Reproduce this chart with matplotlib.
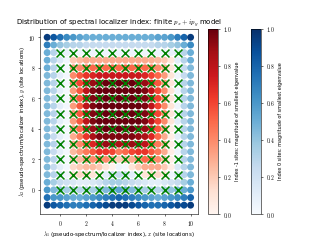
import numpy as np
import matplotlib
matplotlib.use("Agg")
import matplotlib.pyplot as plt
from matplotlib.ticker import FuncFormatter

plt.rcParams['mathtext.fontset'] = 'cm'
plt.rcParams['font.family'] = ['DejaVu Sans']

# grid of probe points (x, y) in steps of 0.5
grid_x = [-1, -0.5, 0, 0.5, 1, 1.5, 2, 2.5, 3, 3.5, 4, 4.5, 5, 5.5, 6, 6.5, 7, 7.5, 8, 8.5, 9, 9.5, 10]
grid_y = [10, 9.5, 9, 8.5, 8, 7.5, 7, 6.5, 6, 5.5, 5, 4.5, 4, 3.5, 3, 2.5, 2, 1.5, 1, 0.5, 0, -0.5, -1]

# local index per probe point: 'B' = index 0, 'R' = index -1 (rows top -> bottom)
index_rows = [
    "BBBBBBBBBBBBBBBBBBBBBBB",
    "BBBBBBBBBBBBBBBBBBBBBBB",
    "BBBBBBBBBBBBBBBBBBBBBBB",
    "BBBBRRRRRRRRRRRRRRRRBBB",
    "BBBBRRRRRRRRRRRRRRRRBBB",
    "BBBBRRRRRRRRRRRRRRRRBBB",
    "BBBBRRRRRRRRRRRRRRRRBBB",
    "BBBBRRRRRRRRRRRRRRRRBBB",
    "BBBBRRRRRRRRRRRRRRRRBBB",
    "BBBBRRRRRRRRRRRRRRRRBBB",
    "BBBBRRRRRRRRRRRRRRRRBBB",
    "BBBBRRRRRRRRRRRRRRRRBBB",
    "BBBBRRRRRRRRRRRRRRRRBBB",
    "BBBBRRRRRRRRRRRRRRRRBBB",
    "BBBBRRRRRRRRRRRRRRRRBBB",
    "BBBBRRRRRRRRRRRRRRRRBBB",
    "BBBBRRRRRRRRRRRRRRRRBBB",
    "BBBBRRRRRRRBBRRRRRRRBBB",
    "BBBBRRRRRBBBBBBRRRRBBBB",
    "BBBBBBBBBBBBBBBBBBBBBBB",
    "BBBBBBBBBBBBBBBBBBBBBBB",
    "BBBBBBBBBBBBBBBBBBBBBBB",
    "BBBBBBBBBBBBBBBBBBBBBBB",
]

# magnitude of smallest eigenvalue per probe point (rows top -> bottom)
magnitude_rows = [
    [0.95, 0.85, 0.75, 0.65, 0.6, 0.55, 0.5, 0.5, 0.5, 0.5, 0.5, 0.5, 0.5, 0.5, 0.5, 0.5, 0.5, 0.55, 0.55, 0.6, 0.7, 0.8, 0.95],
    [0.7, 0.5, 0.4, 0.35, 0.3, 0.3, 0.25, 0.25, 0.25, 0.25, 0.25, 0.25, 0.25, 0.25, 0.25, 0.25, 0.25, 0.3, 0.3, 0.35, 0.4, 0.5, 0.65],
    [0.5, 0.3, 0.12, 0.08, 0.05, 0.05, 0.05, 0.05, 0.05, 0.05, 0.05, 0.05, 0.05, 0.05, 0.05, 0.05, 0.05, 0.05, 0.05, 0.08, 0.12, 0.3, 0.5],
    [0.5, 0.3, 0.15, 0.05, 0.2, 0.25, 0.3, 0.3, 0.3, 0.3, 0.3, 0.3, 0.3, 0.3, 0.3, 0.3, 0.28, 0.25, 0.2, 0.08, 0.1, 0.3, 0.5],
    [0.5, 0.3, 0.1, 0.03, 0.35, 0.4, 0.45, 0.5, 0.5, 0.5, 0.5, 0.5, 0.5, 0.5, 0.5, 0.5, 0.45, 0.4, 0.3, 0.1, 0.05, 0.25, 0.45],
    [0.45, 0.3, 0.1, 0.03, 0.4, 0.55, 0.65, 0.7, 0.75, 0.75, 0.75, 0.75, 0.75, 0.75, 0.75, 0.7, 0.6, 0.5, 0.35, 0.1, 0.05, 0.25, 0.45],
    [0.45, 0.3, 0.1, 0.03, 0.4, 0.6, 0.8, 0.9, 0.95, 1.0, 1.0, 1.0, 1.0, 1.0, 0.95, 0.9, 0.75, 0.55, 0.35, 0.1, 0.05, 0.3, 0.45],
    [0.45, 0.3, 0.1, 0.03, 0.35, 0.55, 0.8, 0.95, 1.0, 1.0, 1.0, 1.0, 1.0, 1.0, 1.0, 0.95, 0.8, 0.6, 0.4, 0.1, 0.05, 0.3, 0.45],
    [0.45, 0.3, 0.1, 0.03, 0.35, 0.55, 0.8, 0.95, 1.0, 1.0, 1.0, 1.0, 1.0, 1.0, 1.0, 0.95, 0.8, 0.6, 0.4, 0.1, 0.05, 0.3, 0.45],
    [0.45, 0.3, 0.1, 0.03, 0.35, 0.55, 0.8, 0.95, 1.0, 1.0, 1.0, 1.0, 1.0, 1.0, 1.0, 0.95, 0.8, 0.6, 0.4, 0.1, 0.05, 0.3, 0.45],
    [0.45, 0.3, 0.1, 0.03, 0.35, 0.55, 0.8, 0.95, 1.0, 1.0, 1.0, 1.0, 1.0, 1.0, 1.0, 0.95, 0.8, 0.6, 0.4, 0.1, 0.05, 0.3, 0.45],
    [0.45, 0.3, 0.1, 0.03, 0.35, 0.55, 0.8, 0.95, 1.0, 1.0, 1.0, 1.0, 1.0, 1.0, 1.0, 0.95, 0.8, 0.6, 0.4, 0.1, 0.1, 0.3, 0.45],
    [0.45, 0.3, 0.1, 0.03, 0.35, 0.5, 0.75, 0.9, 1.0, 1.0, 1.0, 1.0, 1.0, 1.0, 0.95, 0.9, 0.75, 0.55, 0.35, 0.05, 0.05, 0.3, 0.45],
    [0.45, 0.25, 0.1, 0.03, 0.3, 0.45, 0.65, 0.85, 0.95, 0.95, 0.95, 0.95, 0.95, 0.95, 0.9, 0.85, 0.7, 0.5, 0.3, 0.05, 0.1, 0.3, 0.45],
    [0.45, 0.3, 0.1, 0.03, 0.3, 0.4, 0.55, 0.7, 0.85, 0.9, 0.9, 0.85, 0.85, 0.9, 0.9, 0.8, 0.6, 0.45, 0.3, 0.05, 0.05, 0.3, 0.45],
    [0.45, 0.25, 0.1, 0.03, 0.25, 0.35, 0.45, 0.55, 0.65, 0.65, 0.6, 0.45, 0.5, 0.6, 0.65, 0.65, 0.55, 0.45, 0.3, 0.05, 0.05, 0.3, 0.45],
    [0.45, 0.3, 0.1, 0.03, 0.2, 0.25, 0.35, 0.4, 0.45, 0.4, 0.3, 0.2, 0.25, 0.3, 0.4, 0.5, 0.5, 0.4, 0.25, 0.05, 0.05, 0.3, 0.45],
    [0.45, 0.25, 0.1, 0.03, 0.15, 0.2, 0.25, 0.25, 0.2, 0.1, 0.02, 0.05, 0.02, 0.1, 0.2, 0.3, 0.3, 0.3, 0.2, 0.05, 0.15, 0.3, 0.45],
    [0.45, 0.3, 0.15, 0.05, 0.1, 0.15, 0.15, 0.1, 0.02, 0.1, 0.2, 0.25, 0.2, 0.1, 0.02, 0.1, 0.15, 0.15, 0.1, 0.05, 0.15, 0.3, 0.45],
    [0.5, 0.35, 0.25, 0.2, 0.15, 0.1, 0.1, 0.15, 0.2, 0.3, 0.35, 0.35, 0.3, 0.25, 0.2, 0.15, 0.1, 0.1, 0.15, 0.2, 0.25, 0.35, 0.5],
    [0.6, 0.45, 0.4, 0.35, 0.3, 0.3, 0.3, 0.35, 0.4, 0.45, 0.5, 0.55, 0.5, 0.45, 0.4, 0.35, 0.3, 0.3, 0.35, 0.4, 0.45, 0.5, 0.6],
    [0.75, 0.6, 0.6, 0.55, 0.5, 0.5, 0.55, 0.6, 0.65, 0.7, 0.75, 0.8, 0.75, 0.7, 0.65, 0.6, 0.55, 0.5, 0.55, 0.6, 0.65, 0.7, 0.8],
    [0.95, 0.85, 0.8, 0.75, 0.7, 0.7, 0.75, 0.8, 0.85, 0.9, 0.95, 0.95, 0.95, 0.9, 0.85, 0.8, 0.75, 0.75, 0.8, 0.85, 0.9, 0.9, 0.95],
]

# lattice sites
site_x = [0, 1, 2, 3, 4, 5, 6, 7, 8, 9]
site_y = [0, 1, 2, 3, 4, 5, 6, 7, 8, 9]

bx, by, bv, rx, ry, rv = [], [], [], [], [], []
for j, yv in enumerate(grid_y):
    for i, xv in enumerate(grid_x):
        if index_rows[j][i] == 'R':
            rx.append(xv); ry.append(yv); rv.append(magnitude_rows[j][i])
        else:
            bx.append(xv); by.append(yv); bv.append(magnitude_rows[j][i])

fig = plt.figure(figsize=(6.4, 4.82), dpi=50)
ax = fig.add_axes([0.125, 0.112, 0.493, 0.768])
cax1 = fig.add_axes([0.651, 0.112, 0.031, 0.768])
cax2 = fig.add_axes([0.784, 0.112, 0.033, 0.768])

sb = ax.scatter(bx, by, c=bv, cmap='Blues', vmin=0, vmax=1, s=100, linewidths=0)
sr = ax.scatter(rx, ry, c=rv, cmap='Reds', vmin=0, vmax=1, s=100, linewidths=0)
sx, sy = np.meshgrid(site_x, site_y)
ax.scatter(sx.ravel(), sy.ravel(), marker='x', color='green', s=130, linewidths=2.2)

ax.set_xlim(-1.55, 10.55)
ax.set_ylim(-1.58, 10.55)
ax.set_xticks([0, 2, 4, 6, 8, 10])
ax.set_yticks([0, 2, 4, 6, 8, 10])
fmt_int = FuncFormatter(lambda v, p: f'${v:.0f}$')
ax.xaxis.set_major_formatter(fmt_int)
ax.yaxis.set_major_formatter(fmt_int)
ax.tick_params(labelsize=8)
ax.set_xlabel(r'$\lambda_1$ (pseudo-spectrum/localizer index), $x$ (site locations)', fontsize=8, labelpad=1)
ax.set_ylabel(r'$\lambda_2$ (pseudo-spectrum/localizer index), $y$ (site locations)', fontsize=8, labelpad=1)
ax.set_title(r'Distribution of spectral localizer index: finite $p_x+ip_y$ model', fontsize=10)

fmt_cb = FuncFormatter(lambda v, p: f'${v:.1f}$')
cb1 = fig.colorbar(sr, cax=cax1)
cb1.set_label('Index -1 sites: magnitude of smallest eigenvalue', fontsize=7)
cb2 = fig.colorbar(sb, cax=cax2)
cb2.set_label('Index 0 sites: magnitude of smallest eigenvalue', fontsize=7)
for cb in (cb1, cb2):
    cb.set_ticks([0, 0.2, 0.4, 0.6, 0.8, 1.0])
    cb.ax.yaxis.set_major_formatter(fmt_cb)
    cb.ax.tick_params(labelsize=8)

fig.savefig('out.png', dpi=50)
